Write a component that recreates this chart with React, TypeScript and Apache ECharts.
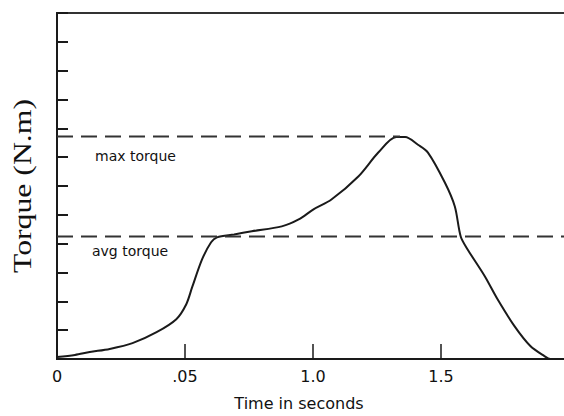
import React, { useEffect, useRef } from "react";
import * as echarts from "echarts";

// Time (s) vs torque (N.m)
const torqueCurve: [number, number][] = [
  [0, 0.07], [0.07, 0.14], [0.128, 0.24], [0.206, 0.35], [0.295, 0.55],
  [0.389, 0.93], [0.466, 1.38], [0.505, 1.9], [0.528, 2.49], [0.567, 3.46],
  [0.602, 4.05], [0.625, 4.22], [0.692, 4.32], [0.761, 4.43], [0.878, 4.6],
  [0.944, 4.84], [1.002, 5.19], [1.072, 5.53], [1.177, 6.33], [1.255, 7.16],
  [1.325, 7.7], [1.36, 7.7], [1.41, 7.43], [1.449, 7.16], [1.515, 6.12],
  [1.554, 5.29], [1.577, 4.25], [1.604, 3.8], [1.671, 2.87], [1.721, 2.07],
  [1.787, 1.14], [1.849, 0.45], [1.904, 0.1], [1.927, 0], [2.0, 0],
];
const maxTorqueLine: [number, number][] = [[0, 7.72], [1.34, 7.72]];
const avgTorqueLine: [number, number][] = [[0, 4.25], [2.0, 4.25]];

const xTickLabels: Record<string, string> = { "0": "0", "0.5": ".05", "1": "1.0", "1.5": "1.5" };
const yAxisTitle = "Torque (N.m)";
const xAxisTitle = "Time in seconds";
const maxLabel = "max torque";
const avgLabel = "avg torque";

export default function App() {
  const ref = useRef<HTMLDivElement>(null);
  useEffect(() => {
    document.body.style.margin = "0";
    document.body.style.overflow = "hidden";
    document.documentElement.style.overflow = "hidden";
    if (!ref.current) return;
    const chart = echarts.init(ref.current, undefined, { renderer: "svg" });
    const ink = "#1a1a1a";
    chart.setOption({
      animation: false,
      backgroundColor: "#fff",
      grid: {
        left: 57, right: 0, top: 13, bottom: 56,
        show: true, borderColor: "#333", borderWidth: 2, backgroundColor: "transparent",
      },
      xAxis: {
        type: "value", min: 0, max: 2, interval: 0.5,
        axisLine: { lineStyle: { color: ink, width: 2 } },
        axisTick: { inside: true, length: 15, lineStyle: { color: ink, width: 1.5 } },
        axisLabel: {
          margin: 9, color: "#111", fontFamily: "DejaVu Sans", fontSize: 16,
          formatter: (v: number) => xTickLabels[String(v)] ?? "",
        },
        splitLine: { show: false },
        name: xAxisTitle, nameLocation: "middle", nameGap: 36,
        nameTextStyle: { color: "#111", fontFamily: "DejaVu Sans", fontSize: 16, padding: [0, 28, 0, 0] },
      },
      yAxis: {
        type: "value", min: 0, max: 12, interval: 1,
        axisLine: { lineStyle: { color: ink, width: 2 } },
        axisTick: { inside: true, length: 11, lineStyle: { color: ink, width: 2 } },
        axisLabel: { show: false },
        splitLine: { show: false },
      },
      series: [
        {
          type: "line", data: torqueCurve, showSymbol: false, smooth: 0.3,
          lineStyle: { color: "#1a1a1a", width: 2 },
        },
        {
          type: "line", data: maxTorqueLine, showSymbol: false,
          lineStyle: { color: "#333", width: 2, type: [16, 8] },
        },
        {
          type: "line", data: avgTorqueLine, showSymbol: false,
          lineStyle: { color: "#333", width: 2, type: [16, 8] },
        },
      ],
      graphic: [
        {
          type: "text", x: 22, y: 186, rotation: Math.PI / 2, scaleX: 1.22,
          style: {
            text: yAxisTitle, fontFamily: "Liberation Serif", fontSize: 26,
            fill: "#111", align: "center", verticalAlign: "middle",
          },
        },
        {
          type: "text", x: 95, y: 156,
          style: { text: maxLabel, fontFamily: "DejaVu Sans", fontSize: 14, fill: "#111", align: "left", verticalAlign: "middle" },
        },
        {
          type: "text", x: 92, y: 251,
          style: { text: avgLabel, fontFamily: "DejaVu Sans", fontSize: 14, fill: "#111", align: "left", verticalAlign: "middle" },
        },
      ],
    });
    return () => chart.dispose();
  }, []);
  return <div ref={ref} style={{ width: 572, height: 416 }} />;
}
